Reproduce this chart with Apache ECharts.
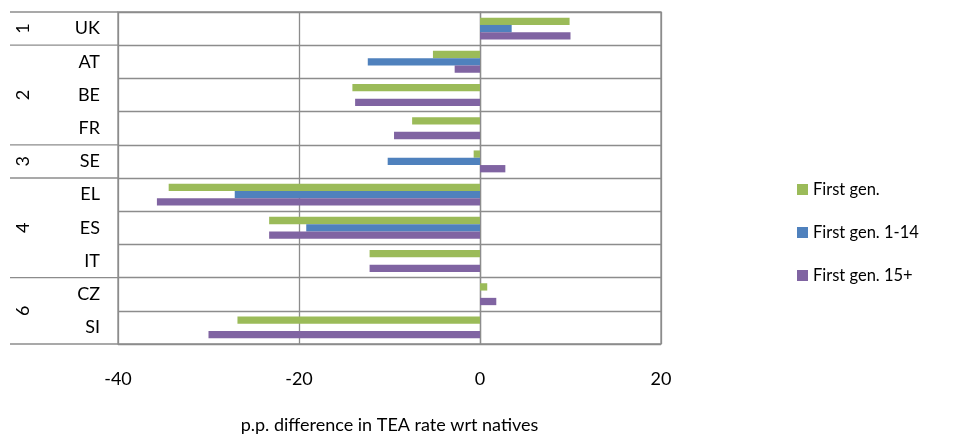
<!DOCTYPE html>
<html>
<head>
<meta charset="utf-8">
<script src="https://cdn.jsdelivr.net/npm/echarts@6/dist/echarts.min.js"></script>
<style>
html, body { margin: 0; padding: 0; background: #fff; }
#chart { width: 973px; height: 439px; }
</style>
</head>
<body>
<div id="chart"></div>
<script>
var categories = ['UK', 'AT', 'BE', 'FR', 'SE', 'EL', 'ES', 'IT', 'CZ', 'SI'];
var groups = ['1', '2', '2', '2', '3', '4', '4', '4', '6', '6'];
var firstGen = [9.9, -5.2, -14.1, -7.5, -0.7, -34.4, -23.3, -12.2, 0.8, -26.8];
var firstGen114 = [3.5, -12.4, null, null, -10.2, -27.1, -19.2, null, null, null];
var firstGen15 = [10.0, -2.8, -13.8, -9.5, 2.8, -35.7, -23.3, -12.2, 1.8, -30.0];
var xTicks = [-40, -20, 0, 20];

var font = 'Lato, "Open Sans", sans-serif';
var gridColor = '#8c8c8c';

var dom = document.getElementById('chart');
var myChart = echarts.init(dom);

var option = {
	animation: false,
	textStyle: { fontFamily: font },
	grid: {
		left: 118, right: 312, top: 12, bottom: 94,
		show: true, borderColor: gridColor, borderWidth: 1.3
	},
	legend: {
		orient: 'vertical',
		left: 792,
		top: 176,
		itemWidth: 11,
		itemHeight: 11,
		itemGap: 26,
		icon: 'rect',
		textStyle: { fontSize: 16.5, color: '#000', fontFamily: font },
		data: ['First gen.', 'First gen. 1-14', 'First gen. 15+']
	},
	xAxis: {
		type: 'value',
		min: xTicks[0],
		max: xTicks[xTicks.length - 1],
		interval: 20,
		name: 'p.p. difference in TEA rate wrt natives',
		nameLocation: 'middle',
		nameGap: 72,
		nameTextStyle: { fontSize: 18, color: '#000', fontFamily: font },
		axisLine: { show: false },
		axisTick: { show: false },
		axisLabel: { fontSize: 18, color: '#000', margin: 26 },
		splitLine: { lineStyle: { color: gridColor, width: 1.3 } }
	},
	yAxis: {
		type: 'category',
		inverse: true,
		data: categories,
		axisLine: { lineStyle: { color: gridColor, width: 1.3 } },
		axisTick: { show: false },
		axisLabel: { fontSize: 18, color: '#000', margin: 18 },
		splitLine: { show: true, interval: 0, lineStyle: { color: gridColor, width: 1.3 } }
	},
	series: [
		{ name: 'First gen.', type: 'bar', data: firstGen, barGap: 0, barCategoryGap: '34%',
		  itemStyle: { color: '#9bbb59' } },
		{ name: 'First gen. 1-14', type: 'bar', data: firstGen114, barGap: 0, barCategoryGap: '34%',
		  itemStyle: { color: '#4f81bd' } },
		{ name: 'First gen. 15+', type: 'bar', data: firstGen15, barGap: 0, barCategoryGap: '34%',
		  itemStyle: { color: '#8064a2' } }
	]
};
myChart.setOption(option, true);

// group labels and separators in the label column
var c0 = myChart.convertToPixel({ yAxisIndex: 0 }, categories[0]);
var c1 = myChart.convertToPixel({ yAxisIndex: 0 }, categories[1]);
var band = c1 - c0;
var plotLeft = myChart.convertToPixel({ xAxisIndex: 0 }, xTicks[0]);
var graphics = [];
var start = 0;
for (var i = 1; i <= groups.length; i++) {
	if (i === groups.length || groups[i] !== groups[start]) {
		var yTop = myChart.convertToPixel({ yAxisIndex: 0 }, categories[start]) - band / 2;
		var yBot = myChart.convertToPixel({ yAxisIndex: 0 }, categories[i - 1]) + band / 2;
		if (start === 0) {
			graphics.push({ type: 'line', shape: { x1: 10, y1: yTop, x2: plotLeft, y2: yTop },
				style: { stroke: gridColor, lineWidth: 1.3 } });
		}
		graphics.push({ type: 'line', shape: { x1: 10, y1: yBot, x2: plotLeft, y2: yBot },
			style: { stroke: gridColor, lineWidth: 1.3 } });
		graphics.push({ type: 'text', x: 23, y: (yTop + yBot) / 2, rotation: Math.PI / 2,
			style: { text: groups[start], font: '18px ' + font, fill: '#000',
				textAlign: 'center', textVerticalAlign: 'middle' } });
		start = i;
	}
}
myChart.setOption({ graphic: graphics });

window.onresize = function () {
	myChart.resize();
};
</script>
</body>
</html>
